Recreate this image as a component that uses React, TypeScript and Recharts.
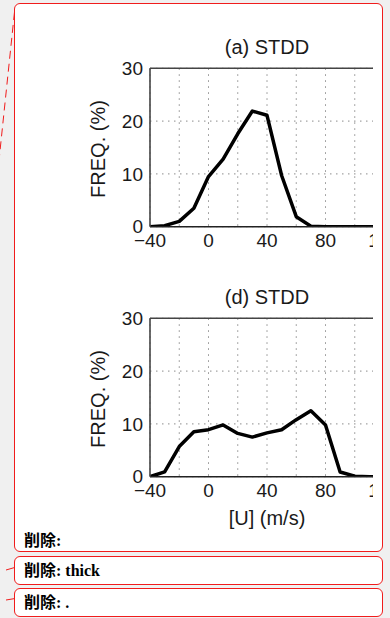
import React from 'react';
import { LineChart, Line, XAxis, YAxis, CartesianGrid, ReferenceLine } from 'recharts';

const uValues = [-40, -30, -20, -10, 0, 10, 20, 30, 40, 50, 60, 70, 80, 90, 100, 110, 120];
const freqA = [0, 0.2, 1, 3.5, 9.5, 12.8, 17.6, 21.9, 21.1, 9.7, 1.9, 0.1, 0, 0, 0, 0, 0];
const freqD = [0, 0.9, 5.7, 8.5, 8.9, 9.8, 8.2, 7.5, 8.3, 8.9, 10.8, 12.5, 9.8, 0.9, 0.1, 0, 0];
const xTicks = [-40, -20, 0, 20, 40, 60, 80, 100, 120];
const xTickLabels = ['\u221240', '', '0', '', '40', '', '80', '', '120'];
const yTicks = [0, 10, 20, 30];
const panelTitles = ['(a) STDD', '(d) STDD'];
const yLabel = 'FREQ. (%)';
const xLabel = '[U] (m/s)';
const deletions = ['削除:', '削除: thick', '削除: .'];

const dataA = uValues.map((u, i) => ({ u, f: freqA[i] }));
const dataD = uValues.map((u, i) => ({ u, f: freqD[i] }));

const FONT = "'Liberation Sans', Arial, Helvetica, sans-serif";
const fmtX = (v: number) => {
  const i = xTicks.indexOf(v);
  return i >= 0 ? xTickLabels[i] : '';
};

function Panel({ data, top, height }: { data: { u: number; f: number }[]; top: number; height: number }) {
  const plotTop = 68.3;
  const plotH = 158.4;
  return (
    <div style={{ position: 'absolute', left: 0, top, width: 390, height }}>
      <LineChart width={390} height={height} data={data} margin={{ top: plotTop, right: 6, bottom: 0, left: 0 }}>
        <CartesianGrid stroke="#8c8c8c" strokeDasharray="1.5 4.5" strokeWidth={1} />
        <XAxis
          dataKey="u"
          type="number"
          domain={[-40, 120]}
          ticks={xTicks}
          interval={0}
          tickFormatter={fmtX}
          tickLine={false}
          tickSize={5}
          tickMargin={2}
          height={height - plotTop - plotH}
          axisLine={{ stroke: '#222', strokeWidth: 1.6 }}
          tick={{ fontSize: 19, fill: '#1a1a1a', fontFamily: FONT }}
          allowDataOverflow
        />
        <YAxis
          type="number"
          domain={[0, 30]}
          ticks={yTicks}
          interval={0}
          width={150}
          tickLine={false}
          tickSize={5}
          tickMargin={2}
          axisLine={{ stroke: '#444', strokeWidth: 1.6 }}
          tick={{ fontSize: 19, fill: '#1a1a1a', fontFamily: FONT }}
          allowDataOverflow
        />
        <ReferenceLine y={30} stroke="#444" strokeWidth={1.6} />
        <Line
          dataKey="f"
          type="linear"
          stroke="#000"
          strokeWidth={3.5}
          strokeLinejoin="round"
          dot={false}
          isAnimationActive={false}
        />
      </LineChart>
    </div>
  );
}

export default function App() {
  const delTop = [533.2, 563.2, 595.2];
  return (
    <div style={{ position: 'absolute', left: 0, top: 0, width: 390, height: 618, background: '#f0f0f0', overflow: 'hidden' }}>
      <div style={{ position: 'absolute', left: 14, top: 3, width: 369, height: 549, boxSizing: 'border-box', border: '1px solid #f01c1c', borderRadius: 6, background: '#fff' }} />
      <div style={{ position: 'absolute', left: 14, top: 556, width: 369, height: 29, boxSizing: 'border-box', border: '1px solid #f01c1c', borderRadius: 6, background: '#fff' }} />
      <div style={{ position: 'absolute', left: 14, top: 588, width: 369, height: 29, boxSizing: 'border-box', border: '1px solid #f01c1c', borderRadius: 6, background: '#fff' }} />
      <div style={{ position: 'absolute', left: 0, top: 0, width: 373, height: 551, overflow: 'hidden' }}>
        <Panel data={dataA} top={0} height={260} />
        <Panel data={dataD} top={250} height={290} />
      </div>
      <svg width={390} height={618} style={{ position: 'absolute', left: 0, top: 0, pointerEvents: 'none' }}>
        <line x1={14.5} y1={12} x2={-2} y2={170} stroke="#f01c1c" strokeWidth={1} strokeDasharray="8 5" />
        <line x1={6} y1={570} x2={14} y2={567.7} stroke="#f01c1c" strokeWidth={1} />
        <line x1={6} y1={600} x2={14} y2={598.7} stroke="#f01c1c" strokeWidth={1} />
        <text x={267} y={53.5} textAnchor="middle" fontSize={20} fill="#1a1a1a" fontFamily={FONT}>{panelTitles[0]}</text>
        <text x={267} y={303.9} textAnchor="middle" fontSize={20} fill="#1a1a1a" fontFamily={FONT}>{panelTitles[1]}</text>
        <text transform="translate(105,149) rotate(-90)" textAnchor="middle" fontSize={20} fill="#1a1a1a" fontFamily={FONT}>{yLabel}</text>
        <text transform="translate(105,399) rotate(-90)" textAnchor="middle" fontSize={20} fill="#1a1a1a" fontFamily={FONT}>{yLabel}</text>
        <text x={267} y={524.5} textAnchor="middle" fontSize={20} fill="#1a1a1a" fontFamily={FONT}>{xLabel}</text>
      </svg>
      {deletions.map((t, i) => (
        <div key={i} style={{ position: 'absolute', left: 24, top: delTop[i], fontSize: 16, lineHeight: '16px', fontWeight: 'bold', whiteSpace: 'pre', color: '#000', fontFamily: "'Liberation Serif', 'Noto Sans CJK JP', serif" }}>{t}</div>
      ))}
    </div>
  );
}
